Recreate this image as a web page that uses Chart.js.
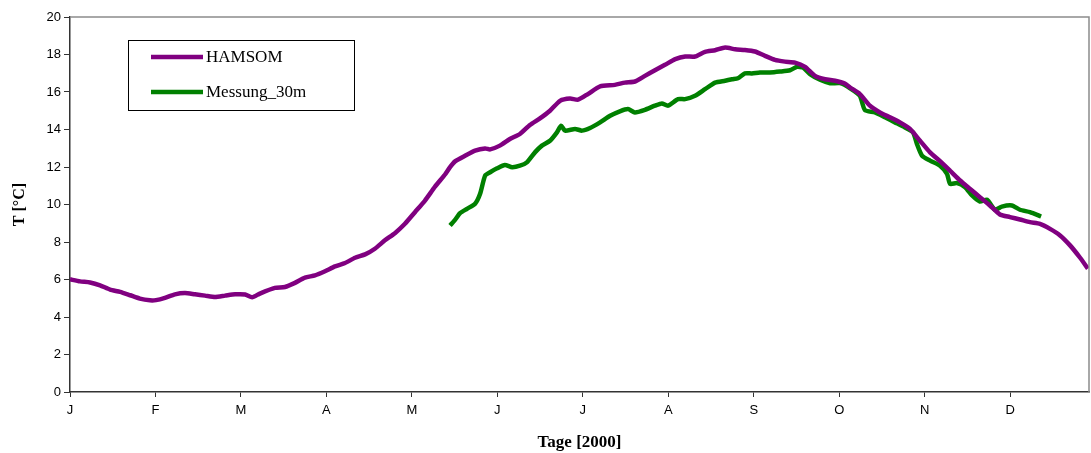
<!DOCTYPE html>
<html>
<head>
<meta charset="utf-8">
<script src="https://cdn.jsdelivr.net/npm/chart.js@4"></script>
<style>
html,body{margin:0;padding:0;background:#fff;}
#wrap{width:1091px;height:453px;position:relative;}
</style>
</head>
<body>
<div id="wrap"><canvas id="c" width="1091" height="453"></canvas></div>
<script>
const monthLabels = ["J","F","M","A","M","J","J","A","S","O","N","D"];
const seriesNames = ["HAMSOM","Messung_30m"];
const yTicks = [0,2,4,6,8,10,12,14,16,18,20];

const hamsomDays = [0,3.6,7.2,10.8,14.4,18,21.6,25.1,28.7,30.9,34.1,37.7,41.3,44.9,48.5,52.1,55.7,59.3,62.9,65.4,68.2,73.6,77.2,80.8,84.4,88,91.6,95.2,98.8,102.4,106,109.5,113.1,116.7,120.3,123.9,127.5,131.1,134.7,136.5,138.3,141.9,145.5,149.1,150.9,154.4,158,161.6,165.2,168.8,172.4,176,179.6,182.5,186,190.4,195.7,199.3,202.9,206.5,210.1,213.7,217.4,221,224.5,228.1,231.7,235.3,238.9,242.4,246,249.6,253.2,256.8,260.4,264,267.6,271.2,274.8,278.3,280.2,283.7,287.3,290.9,294.5,298.1,301.7,305.3,308.9,312.5,316.1,319.7,323.3,326.8,330.4,334,337.6,341.2,344.8,348.4,352,355.6,359.2,362.8,365.6];
const hamsomTemp = [6.01,5.9,5.84,5.69,5.46,5.34,5.16,4.98,4.89,4.9,5.02,5.21,5.28,5.21,5.14,5.07,5.14,5.21,5.2,5.05,5.25,5.55,5.6,5.82,6.1,6.22,6.44,6.7,6.88,7.16,7.34,7.64,8.09,8.47,8.97,9.59,10.21,10.95,11.6,11.99,12.3,12.6,12.87,12.99,12.94,13.14,13.49,13.76,14.24,14.59,15.0,15.53,15.65,15.59,15.89,16.3,16.38,16.5,16.56,16.86,17.16,17.45,17.75,17.89,17.89,18.14,18.23,18.37,18.28,18.24,18.16,17.93,17.71,17.62,17.57,17.34,16.86,16.68,16.6,16.45,16.24,15.89,15.27,14.91,14.65,14.38,14.03,13.4,12.78,12.31,11.8,11.28,10.83,10.39,9.95,9.47,9.33,9.2,9.06,8.97,8.7,8.35,7.82,7.16,6.58];

const messDays = [136.5,138.3,140.1,142.6,145.5,147.3,149.1,150.9,153.4,156.2,158.8,161.6,164.1,167,169.5,172.4,174.9,176.4,177.8,181.4,183.9,186.8,190.4,194,197.5,200.4,202.9,206.5,210.1,212.6,214.8,218.4,220.9,224.5,228.1,231.7,235.3,237.8,239.9,242.4,244.9,247.8,251.4,255,258.6,261.1,263.3,265.8,269.4,273,276.6,280.2,283.7,285.5,289.1,292.7,296.3,299.9,302.8,304.2,306,308.9,312.5,315,316.1,318.6,321.5,324,326.8,329.4,332.2,334.7,338.3,341.2,344.8,348.8];
const messTemp = [8.88,9.18,9.54,9.77,10.04,10.57,11.54,11.72,11.93,12.11,11.99,12.07,12.25,12.78,13.14,13.4,13.85,14.2,13.94,14.03,13.94,14.08,14.38,14.73,14.97,15.09,14.91,15.05,15.27,15.39,15.27,15.62,15.62,15.8,16.15,16.5,16.6,16.68,16.73,16.99,16.99,17.04,17.04,17.09,17.16,17.34,17.3,16.95,16.65,16.47,16.47,16.2,15.8,15.04,14.91,14.65,14.38,14.11,13.85,13.23,12.61,12.34,12.07,11.63,11.1,11.14,10.92,10.48,10.16,10.25,9.72,9.89,9.95,9.72,9.59,9.36];

const DAYS_MAX = 366;
const MONTH_STEP = 30.7;
const colors = ["#800080","#008000"];

function pts(xs, ys){ return xs.map((x,i)=>({x:x, y:ys[i]})); }

const frame = {
  id:'frame',
  afterDatasetsDraw(chart){
    const {ctx, chartArea:a} = chart;
    ctx.save();
    ctx.strokeStyle = '#8c8c8c';
    ctx.lineWidth = 1.5;
    ctx.beginPath();
    ctx.moveTo(a.left, a.top); ctx.lineTo(a.right, a.top); ctx.lineTo(a.right, a.bottom);
    ctx.stroke();
    // legend
    const bx=128.5, by=40.5, bw=226, bh=70;
    ctx.fillStyle='#fff';
    ctx.fillRect(bx,by,bw,bh);
    ctx.strokeStyle='#000'; ctx.lineWidth=1;
    ctx.strokeRect(bx,by,bw,bh);
    const rows=[57,92];
    chart.data.datasets.forEach((ds,i)=>{
      ctx.strokeStyle=ds.borderColor; ctx.lineWidth=4.5;
      ctx.beginPath(); ctx.moveTo(151,rows[i]); ctx.lineTo(203,rows[i]); ctx.stroke();
      ctx.fillStyle='#000';
      ctx.font='17px "Liberation Serif", "Times New Roman", serif';
      ctx.textBaseline='middle'; ctx.textAlign='left';
      ctx.fillText(ds.label, 206, rows[i]+1);
    });
    ctx.restore();
  }
};

new Chart(document.getElementById('c'), {
  type:'line',
  data:{
    datasets:[
      {label:seriesNames[0], data:pts(hamsomDays,hamsomTemp), borderColor:colors[0], borderWidth:4.5, pointRadius:0, tension:0.2, fill:false},
      {label:seriesNames[1], data:pts(messDays,messTemp), borderColor:colors[1], borderWidth:4.5, pointRadius:0, tension:0.2, fill:false}
    ]
  },
  options:{
    responsive:false, animation:false,
    layout:{padding:{top:17, right:2, left:0, bottom:0}},
    plugins:{legend:{display:false}, tooltip:{enabled:false}},
    scales:{
      x:{
        type:'linear', min:0, max:DAYS_MAX,
        afterBuildTicks(scale){ scale.ticks = monthLabels.map((l,i)=>({value:i*MONTH_STEP})); },
        afterFit(scale){ scale.height = 61; },
        ticks:{ autoSkip:false, maxRotation:0, padding:6, color:'#000',
          font:{family:'"Liberation Sans", Arial, sans-serif', size:13},
          callback(v, i){ return monthLabels[i]; } },
        grid:{ drawOnChartArea:false, tickLength:5, color:'#333', tickColor:'#333' },
        border:{ color:'#333', width:1.5 },
        title:{ display:true, text:'Tage [2000]', color:'#000', padding:{top:2,bottom:0},
          font:{family:'"Liberation Serif", "Times New Roman", serif', size:17, weight:'bold'} }
      },
      y:{
        min:0, max:20,
        afterBuildTicks(scale){ scale.ticks = yTicks.map(v=>({value:v})); },
        afterFit(scale){ scale.width = 70; },
        ticks:{ color:'#000', padding:3,
          font:{family:'"Liberation Sans", Arial, sans-serif', size:13} },
        grid:{ drawOnChartArea:false, tickLength:6, color:'#333', tickColor:'#333' },
        border:{ color:'#333', width:1.5 },
        title:{ display:true, text:'T [°C]', color:'#000', padding:{top:10,bottom:0},
          font:{family:'"Liberation Serif", "Times New Roman", serif', size:16, weight:'bold'} }
      }
    }
  },
  plugins:[frame]
});
</script>
</body>
</html>
